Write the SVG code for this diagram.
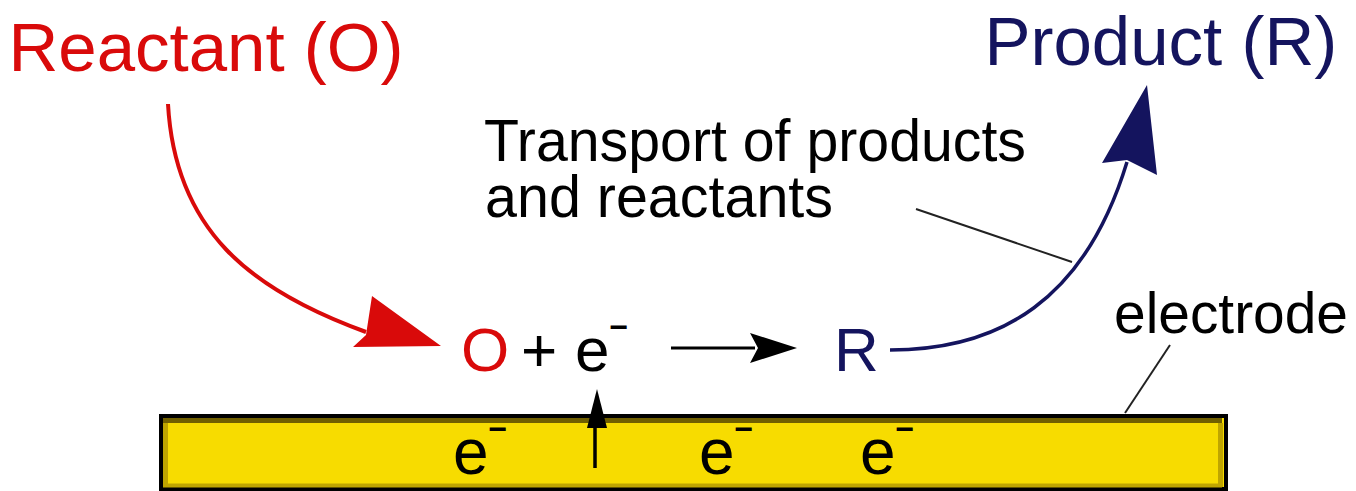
<svg xmlns="http://www.w3.org/2000/svg" width="1356" height="491" viewBox="0 0 1356 491">
  <style>
    .t { font-family: "Liberation Sans", Arial, sans-serif; }
    .red { fill: #d90a0a; }
    .navy { fill: #14145e; }
    .blk { fill: #000000; }
    .sup { font-size: 32px; font-weight: bold; }
    .lead { stroke: #222222; stroke-width: 2; fill: none; }
  </style>
  <rect width="1356" height="491" fill="#ffffff"/>

  <g id="electrode">
    <rect x="161" y="416" width="1065" height="73" fill="#f7dc00" stroke="#000000" stroke-width="4"/>
    <line x1="163" y1="420.5" x2="1222" y2="420.5" stroke="#705f00" stroke-width="5"/>
    <line x1="165.5" y1="423" x2="165.5" y2="487" stroke="#bfa500" stroke-width="5"/>
    <line x1="1220.5" y1="423" x2="1220.5" y2="487" stroke="#bfa500" stroke-width="5"/>
    <line x1="163" y1="485.5" x2="1222" y2="485.5" stroke="#bfa500" stroke-width="4"/>
    <text class="t blk" x="453" y="474" font-size="64">e<tspan class="sup" dy="-34">−</tspan></text>
    <text class="t blk" x="699" y="474" font-size="64">e<tspan class="sup" dy="-34">−</tspan></text>
    <text class="t blk" x="860" y="474" font-size="64">e<tspan class="sup" dy="-34">−</tspan></text>
  </g>

  <g id="reactant">
    <text class="t red" x="8.5" y="71" font-size="69">Reactant (O)</text>
  </g>

  <g id="product">
    <text class="t navy" x="984.5" y="65" font-size="69">Product (R)</text>
  </g>

  <g id="transport">
    <text class="t blk" x="484" y="161" font-size="60" textLength="542" lengthAdjust="spacingAndGlyphs">Transport of products</text>
    <text class="t blk" x="485" y="217" font-size="60" textLength="348" lengthAdjust="spacingAndGlyphs">and reactants</text>
  </g>

  <g id="electrode-label">
    <text class="t blk" x="1114" y="333" font-size="58" textLength="234" lengthAdjust="spacingAndGlyphs">electrode</text>
  </g>

  <g id="reaction">
    <text class="t red" x="461" y="371" font-size="62">O</text>
    <text class="t blk" x="521" y="371" font-size="62">+</text>
    <text class="t blk" x="575" y="371" font-size="62">e<tspan class="sup" dy="-33">−</tspan></text>
    <text class="t navy" x="834" y="371" font-size="62">R</text>
  </g>

  <g id="connectors">
    <path d="M168,104 C175,230 250,290 366,332" stroke="#d90a0a" stroke-width="4" fill="none"/>
    <polygon points="441,346 372,296 366,335 353,347" fill="#d90a0a"/>

    <path d="M890,350 C1000,350 1085,300 1127,162" stroke="#14145e" stroke-width="3.5" fill="none"/>
    <polygon points="1147,85 1157,175 1127,160 1102,163" fill="#14145e"/>

    <line x1="671" y1="348" x2="755" y2="348" stroke="#000000" stroke-width="3"/>
    <polygon points="797,348 750,333 758,348 750,363" fill="#000000"/>

    <line x1="595" y1="468" x2="595" y2="420" stroke="#000000" stroke-width="3.5"/>
    <polygon points="597,389 607,428 587,428" fill="#000000"/>

    <line class="lead" x1="916" y1="209" x2="1072" y2="262"/>
    <line class="lead" x1="1170" y1="345" x2="1125" y2="413"/>
  </g>
</svg>
